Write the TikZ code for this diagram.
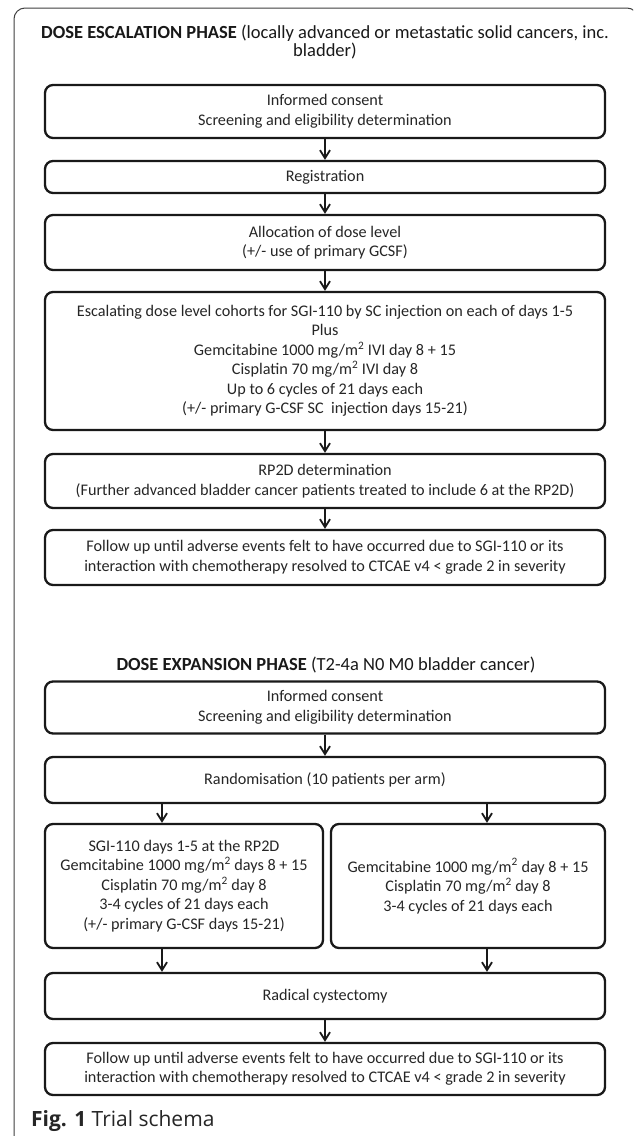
\documentclass[tikz,border=0pt]{standalone}
\usepackage{fontspec}
\setmainfont{Carlito}
\newfontfamily\capfont{Open Sans}
\usetikzlibrary{arrows.meta}
\begin{document}
\begin{tikzpicture}[x=1pt,y=-1pt,
  box/.style={draw=black!90, line width=2.3pt, rounded corners=8pt, minimum width=560pt,
    align=center, inner sep=0pt, text=black!85,
    font=\fontsize{16.2}{19.5}\selectfont},
  halfbox/.style={box, minimum width=277pt},
  ttl/.style={align=center, inner sep=0pt, text=black!90,
    font=\fontsize{18.5}{17.5}\selectfont},
  arr/.style={draw=black!90, line width=1.7pt,
    -{Straight Barb[length=8pt,width=10pt,line width=1.8pt]}}]
\useasboundingbox (0,0) rectangle (633,1136);
\fill[white] (0,0) rectangle (633,1136);
% outer frame
\begin{scope}
\clip (0,0) rectangle (633,1136);
\draw[line width=1pt, black!75, rounded corners=11pt] (14,1160) -- (14,8) -- (638,8) -- (638,1160);
\end{scope}
% escalation phase
\node[ttl] (t1) at (325,42) {\textbf{DOSE ESCALATION PHASE} (locally advanced or metastatic solid cancers, inc.\\bladder)};
\node[box, minimum height=53pt] (ic1) at (325,111.5) {Informed consent\\Screening and eligibility determination};
\node[box, minimum height=32pt] (reg) at (325,177) {Registration};
\node[box, minimum height=55pt] (alloc) at (325,242.5) {Allocation of dose level\\(+/- use of primary GCSF)};
\node[box, minimum height=138pt] (esc) at (325,361) {Escalating dose level cohorts for SGI-110 by SC injection on each of days 1-5\\Plus\\Gemcitabine 1000 mg/m\textsuperscript{2} IVI day 8 + 15\\Cisplatin 70 mg/m\textsuperscript{2} IVI day 8\\Up to 6 cycles of 21 days each\\(+/- primary G-CSF SC\ \ injection days 15-21)};
\node[box, minimum height=54pt] (rp2d) at (325,481) {RP2D determination\\(Further advanced bladder cancer patients treated to include 6 at the RP2D)};
\node[box, minimum height=55pt] (fu1) at (325,557.5) {Follow up until adverse events felt to have occurred due to SGI-110 or its\\interaction with chemotherapy resolved to CTCAE v4 < grade 2 in severity};
\draw[arr] (ic1) -- (reg);
\draw[arr] (reg) -- (alloc);
\draw[arr] (alloc) -- (esc);
\draw[arr] (esc) -- (rp2d);
\draw[arr] (rp2d) -- (fu1);
% expansion phase
\node[ttl] (t2) at (326,665) {\textbf{DOSE EXPANSION PHASE} (T2-4a N0 M0 bladder cancer)};
\node[box, minimum height=52pt] (ic2) at (325,707.5) {Informed consent\\Screening and eligibility determination};
\node[box, minimum height=46pt] (rand) at (325,780) {Randomisation (10 patients per arm)};
\node[halfbox, minimum width=278pt, minimum height=124pt] (armA) at (184,886) {SGI-110 days 1-5 at the RP2D\\Gemcitabine 1000 mg/m\textsuperscript{2} days 8 + 15\\Cisplatin 70 mg/m\textsuperscript{2} day 8\\3-4 cycles of 21 days each\\(+/- primary G-CSF days 15-21)};
\node[halfbox, minimum width=274pt, minimum height=124pt] (armB) at (468,886) {Gemcitabine 1000 mg/m\textsuperscript{2} day 8 + 15\\Cisplatin 70 mg/m\textsuperscript{2} day 8\\3-4 cycles of 21 days each};
\node[box, minimum height=46pt] (cyst) at (325,996) {Radical cystectomy};
\node[box, minimum height=52pt] (fu2) at (325,1069) {Follow up until adverse events felt to have occurred due to SGI-110 or its\\interaction with chemotherapy resolved to CTCAE v4 < grade 2 in severity};
\coordinate (xa) at (162,0);
\coordinate (xb) at (487,0);
\draw[arr] (ic2) -- (rand);
\draw[arr] (rand.south -| xa) -- (armA.north -| xa);
\draw[arr] (rand.south -| xb) -- (armB.north -| xb);
\draw[arr] (armA.south -| xa) -- (cyst.north -| xa);
\draw[arr] (armB.south -| xb) -- (cyst.north -| xb);
\draw[arr] (cyst) -- (fu2);
% caption
\node[anchor=west, inner sep=0pt, text=black!85, font=\capfont\fontsize{21}{24}\selectfont] (cap) at (31,1121) {\textbf{Fig. 1} Trial schema};
\end{tikzpicture}
\end{document}
